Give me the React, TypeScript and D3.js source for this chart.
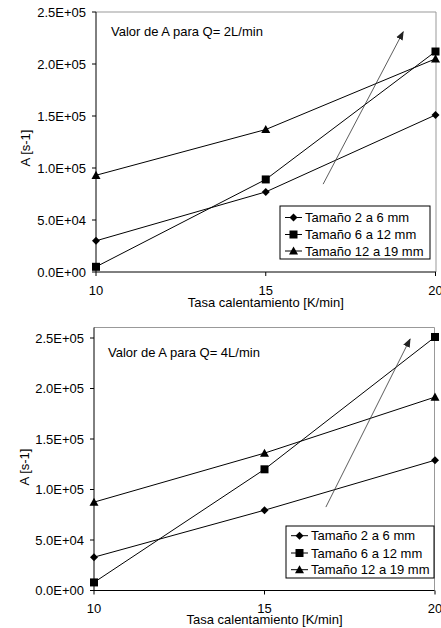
import React from "react";
import * as d3 from "d3";

const rates = [10, 15, 20];
const seriesNames = ["Tamaño 2 a 6 mm", "Tamaño 6 a 12 mm", "Tamaño 12 a 19 mm"];
const markerTypes = ["diamond", "square", "triangle"];

const q2Small = [30000, 77000, 151000];
const q2Medium = [5000, 89000, 212000];
const q2Large = [93000, 137000, 205000];

const q4Small = [33000, 79500, 129000];
const q4Medium = [8000, 120000, 251000];
const q4Large = [87500, 136000, 191500];

const yTicks = [0, 50000, 100000, 150000, 200000, 250000];
const xTicks = [10, 15, 20];

const q2Arrow = [[16.69, 84500], [19.05, 231000]];
const q4Arrow = [[16.8, 82600], [19.27, 249000]];

const FONT = "Arial, 'Liberation Sans', sans-serif";

function fmtSci(v: number) {
  const s = v.toExponential(1).toUpperCase();
  const m = s.match(/^([\d.]+)E([+-])(\d+)$/);
  if (!m) return s;
  return `${m[1]}E${m[2]}${m[3].padStart(2, "0")}`;
}

function Marker({ type, x, y }: { type: string; x: number; y: number }) {
  if (type === "diamond") {
    const r = 4;
    return <path d={`M${x},${y - r}L${x + r},${y}L${x},${y + r}L${x - r},${y}Z`} fill="#000" />;
  }
  if (type === "square") {
    const r = 4;
    return <rect x={x - r} y={y - r} width={2 * r} height={2 * r} fill="#000" />;
  }
  const r = 4.5;
  return <path d={`M${x},${y - r}L${x + r},${y + r * 0.8}L${x - r},${y + r * 0.8}Z`} fill="#000" />;
}

interface ChartProps {
  id: string;
  x0: number; x1: number;
  yBottom: number; yTop: number; frameTop: number; frameRight: number;
  series: number[][];
  arrow: number[][];
  label: string; labelX: number; labelY: number;
  legendBox: [number, number, number, number];
  legendRows: number[];
  yLabelX: number; yLabelY: number;
  tickLabelY: number; titleY: number;
}

function Chart(p: ChartProps) {
  const x = d3.scaleLinear().domain([10, 20]).range([p.x0, p.x1]);
  const y = d3.scaleLinear().domain([0, 250000]).range([p.yBottom, p.yTop]);
  const line = d3.line<number>().x((_, i) => x(rates[i])).y((d) => y(d));
  const [lx0, ly0, lx1, ly1] = p.legendBox;
  const ax0 = x(p.arrow[0][0]), ay0 = y(p.arrow[0][1]);
  const ax1 = x(p.arrow[1][0]), ay1 = y(p.arrow[1][1]);
  return (
    <g fontFamily={FONT} fontSize={13} fill="#000">
      <defs>
        <marker id={`ah-${p.id}`} viewBox="0 0 10 10" refX="9" refY="5" markerWidth="9" markerHeight="9"
          markerUnits="userSpaceOnUse" orient="auto">
          <path d="M0,1L10,5L0,9Z" fill="#222" />
        </marker>
      </defs>
      {/* frame */}
      <path d={`M${p.x0},${p.frameTop}H${p.frameRight}V${p.yBottom}`} fill="none" stroke="#999" strokeWidth={1} />
      {/* axes */}
      <line x1={p.x0} x2={p.frameRight} y1={p.yBottom} y2={p.yBottom} stroke="#000" strokeWidth={1} />
      <line x1={p.x0} x2={p.x0} y1={p.frameTop} y2={p.yBottom} stroke="#000" strokeWidth={1} />
      {yTicks.map((t) => (
        <g key={t}>
          <line x1={p.x0 - 4} x2={p.x0} y1={y(t)} y2={y(t)} stroke="#000" />
          <text x={p.x0 - 10} y={y(t)} dy="0.35em" textAnchor="end">{fmtSci(t)}</text>
        </g>
      ))}
      {xTicks.map((t) => (
        <g key={t}>
          <line x1={x(t)} x2={x(t)} y1={p.yBottom} y2={p.yBottom + 4} stroke="#000" />
          <text x={x(t)} y={p.tickLabelY} textAnchor="middle">{t}</text>
        </g>
      ))}
      <text x={(p.x0 + p.x1) / 2} y={p.titleY} textAnchor="middle">Tasa calentamiento [K/min]</text>
      <text transform={`translate(${p.yLabelX},${p.yLabelY}) rotate(-90)`} dy="0.35em" textAnchor="middle">A [s-1]</text>
      <text x={p.labelX} y={p.labelY}>{p.label}</text>
      {/* series */}
      {p.series.map((s, si) => (
        <g key={si}>
          <path d={line(s) || ""} fill="none" stroke="#000" strokeWidth={1} />
          {s.map((v, i) => <Marker key={i} type={markerTypes[si]} x={x(rates[i])} y={y(v)} />)}
        </g>
      ))}
      {/* arrow */}
      <line x1={ax0} y1={ay0} x2={ax1} y2={ay1} stroke="#333" strokeWidth={0.8} markerEnd={`url(#ah-${p.id})`} />
      {/* legend */}
      <rect x={lx0} y={ly0} width={lx1 - lx0} height={ly1 - ly0} fill="#fff" stroke="#000" strokeWidth={1} />
      {seriesNames.map((n, i) => (
        <g key={n}>
          <line x1={lx0 + 5} x2={lx0 + 22} y1={p.legendRows[i]} y2={p.legendRows[i]} stroke="#000" />
          <Marker type={markerTypes[i]} x={lx0 + 13.5} y={p.legendRows[i]} />
          <text x={lx0 + 25} y={p.legendRows[i]} dy="0.35em">{n}</text>
        </g>
      ))}
    </g>
  );
}

export default function App() {
  return (
    <svg width={441} height={628} style={{ position: "absolute", left: 0, top: 0, background: "#fff" }}>
      <rect width={441} height={628} fill="#fff" />
      <Chart id="a" x0={96} x1={435.5} yBottom={272} yTop={12} frameTop={12} frameRight={436}
        series={[q2Small, q2Medium, q2Large]} arrow={q2Arrow}
        label="Valor de A para Q= 2L/min" labelX={111} labelY={36}
        legendBox={[280, 206, 430, 259]} legendRows={[217.5, 234.5, 251]}
        yLabelX={25} yLabelY={148} tickLabelY={295} titleY={307} />
      <Chart id="b" x0={94} x1={435} yBottom={590.5} yTop={338} frameTop={327.5} frameRight={434.5}
        series={[q4Small, q4Medium, q4Large]} arrow={q4Arrow}
        label="Valor de A para Q= 4L/min" labelX={108} labelY={357}
        legendBox={[286, 526, 434, 578]} legendRows={[535.7, 553, 569.7]}
        yLabelX={24} yLabelY={467} tickLabelY={613} titleY={623.5} />
    </svg>
  );
}
